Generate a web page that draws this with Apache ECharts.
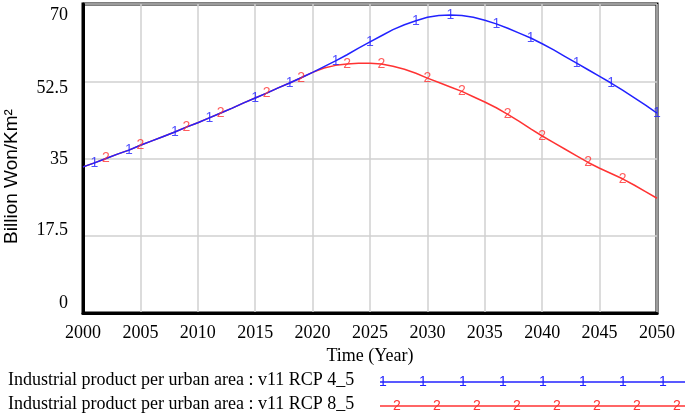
<!DOCTYPE html>
<html>
<head>
<meta charset="utf-8">
<script src="https://cdn.jsdelivr.net/npm/echarts@6/dist/echarts.min.js"></script>
<style>html,body{margin:0;padding:0;background:#fff}#c{width:685px;height:420px}</style>
</head>
<body>
<div id="c"></div>
<script>
var years = [];
for (var y = 2000; y <= 2050; y++) years.push(y);

var rcp45 = [33.1,34.0,35.0,36.0,36.9,38.0,39.0,40.0,41.0,42.1,
             43.1,44.2,45.3,46.4,47.6,48.7,49.8,51.0,52.1,53.3,
             54.5,55.8,57.1,58.5,60.0,61.4,62.8,64.2,65.3,66.2,
             67.0,67.4,67.5,67.4,67.0,66.3,65.5,64.5,63.4,62.3,
             61.0,59.6,58.1,56.6,55.1,53.6,52.1,50.5,48.8,47.1,45.3];
var rcp85 = [33.1,34.0,35.0,36.0,36.9,38.0,39.0,40.0,41.0,42.1,
             43.1,44.2,45.3,46.4,47.6,48.7,49.8,51.0,52.1,53.3,
             54.5,55.5,56.1,56.4,56.6,56.6,56.4,55.9,55.2,54.3,
             53.2,52.2,51.2,50.2,49.0,47.8,46.5,45.0,43.4,41.7,
             40.1,38.6,37.1,35.6,34.1,32.8,31.6,30.4,29.0,27.5,26.0];
var markYears45 = [2001,2004,2008,2011,2015,2018,2022,2025,2029,2032,2036,2039,2043,2046,2050];
var markYears85 = [2002,2005,2009,2012,2016,2019,2023,2026,2030,2033,2037,2040,2044,2047];
var yTicks = [0, 17.5, 35, 52.5, 70];
var seriesNames = ['Industrial product per urban area : v11 RCP 4_5',
                   'Industrial product per urban area : v11 RCP 8_5'];

var BLUE = '#2222ff', RED = '#ff3333';
var serif = '"Liberation Serif", "Times New Roman", serif';
var sans = '"Liberation Sans", Arial, sans-serif';

function pairs(vals) { return years.map(function (yr, i) { return [yr, vals[i]]; }); }
function marks(vals, ys) { return ys.map(function (yr) { return [yr, vals[years.indexOf(yr)]]; }); }

var yRich = {
  l0: {fontFamily: serif, fontSize: 18, color: '#000', padding: [0,0,20,0]},
  l1: {fontFamily: serif, fontSize: 18, color: '#000', padding: [0,0,10,0]},
  l2: {fontFamily: serif, fontSize: 18, color: '#000', padding: [2,0,0,0]},
  l3: {fontFamily: serif, fontSize: 18, color: '#000', padding: [14,0,0,0]},
  l4: {fontFamily: serif, fontSize: 18, color: '#000', padding: [22,0,0,0]}
};

var chart = echarts.init(document.getElementById('c'), null, {renderer: 'canvas'});

var legendGraphics = [];
function legendRow(idx, yc, color, glyph, x0) {
  legendGraphics.push({type: 'text', left: 8, top: yc - 11,
    style: {text: seriesNames[idx], font: '18px ' + serif, fill: '#000'}});
  legendGraphics.push({type: 'line', shape: {x1: 380, y1: yc, x2: 685, y2: yc},
    style: {stroke: color, lineWidth: 1.5}});
  for (var k = 0; k < 8; k++) {
    legendGraphics.push({type: 'text', x: x0 + k * 40, y: yc,
      style: {text: glyph, font: '14px ' + sans, fill: color, align: 'center', verticalAlign: 'middle'}});
  }
}
legendRow(0, 382, BLUE, '1', 383);
legendRow(1, 406, RED, '2', 397);

var markLabel = function (glyph, color) {
  return {show: true, position: 'inside', formatter: glyph, color: color, fontFamily: sans, fontSize: 14};
};

chart.setOption({
  animation: false,
  backgroundColor: '#fff',
  grid: {left: 83, right: 28, top: 4, bottom: 107, outerBoundsMode: 'none', containLabel: false,
         show: true, borderColor: '#000', borderWidth: 3, backgroundColor: 'transparent'},
  xAxis: {
    type: 'value', min: 2000, max: 2050, interval: 5,
    name: 'Time (Year)', nameLocation: 'middle', nameGap: 31,
    nameTextStyle: {fontFamily: serif, fontSize: 18, color: '#000'},
    axisLine: {show: true, lineStyle: {color: '#000', width: 3}},
    axisTick: {show: false},
    axisLabel: {fontFamily: serif, fontSize: 18, color: '#000', margin: 11,
      formatter: function (v) { return String(v); }},
    splitLine: {show: true, lineStyle: {color: '#d0d0d0', width: 1.5}}
  },
  yAxis: {
    type: 'value', min: 0, max: 70, interval: 17.5,
    name: 'Billion Won/Km²', nameLocation: 'middle', nameGap: 62,
    nameTextStyle: {fontFamily: sans, fontSize: 19, color: '#000', padding: [0, 36, 0, 0]},
    axisLine: {show: true, lineStyle: {color: '#000', width: 3}},
    axisTick: {show: false},
    axisLabel: {margin: 15, color: '#000', rich: yRich,
      formatter: function (v) { var i = yTicks.indexOf(v); return '{l' + i + '|' + v + '}'; }},
    splitLine: {show: true, lineStyle: {color: '#d0d0d0', width: 1.5}}
  },
  graphic: legendGraphics,
  series: [
    {name: seriesNames[0], type: 'line', data: pairs(rcp45), showSymbol: false, z: 3,
     lineStyle: {color: BLUE, width: 1.5}, itemStyle: {color: BLUE}},
    {name: seriesNames[1], type: 'line', data: pairs(rcp85), showSymbol: false, z: 2,
     lineStyle: {color: RED, width: 1.5}, itemStyle: {color: RED}},
    {type: 'scatter', data: marks(rcp45, markYears45), symbolSize: 2, z: 4,
     itemStyle: {color: 'rgba(0,0,0,0)'}, label: markLabel('1', BLUE)},
    {type: 'scatter', data: marks(rcp85, markYears85), symbolSize: 2, z: 4,
     itemStyle: {color: 'rgba(0,0,0,0)'}, label: markLabel('2', RED)}
  ]
});
</script>
</body>
</html>
